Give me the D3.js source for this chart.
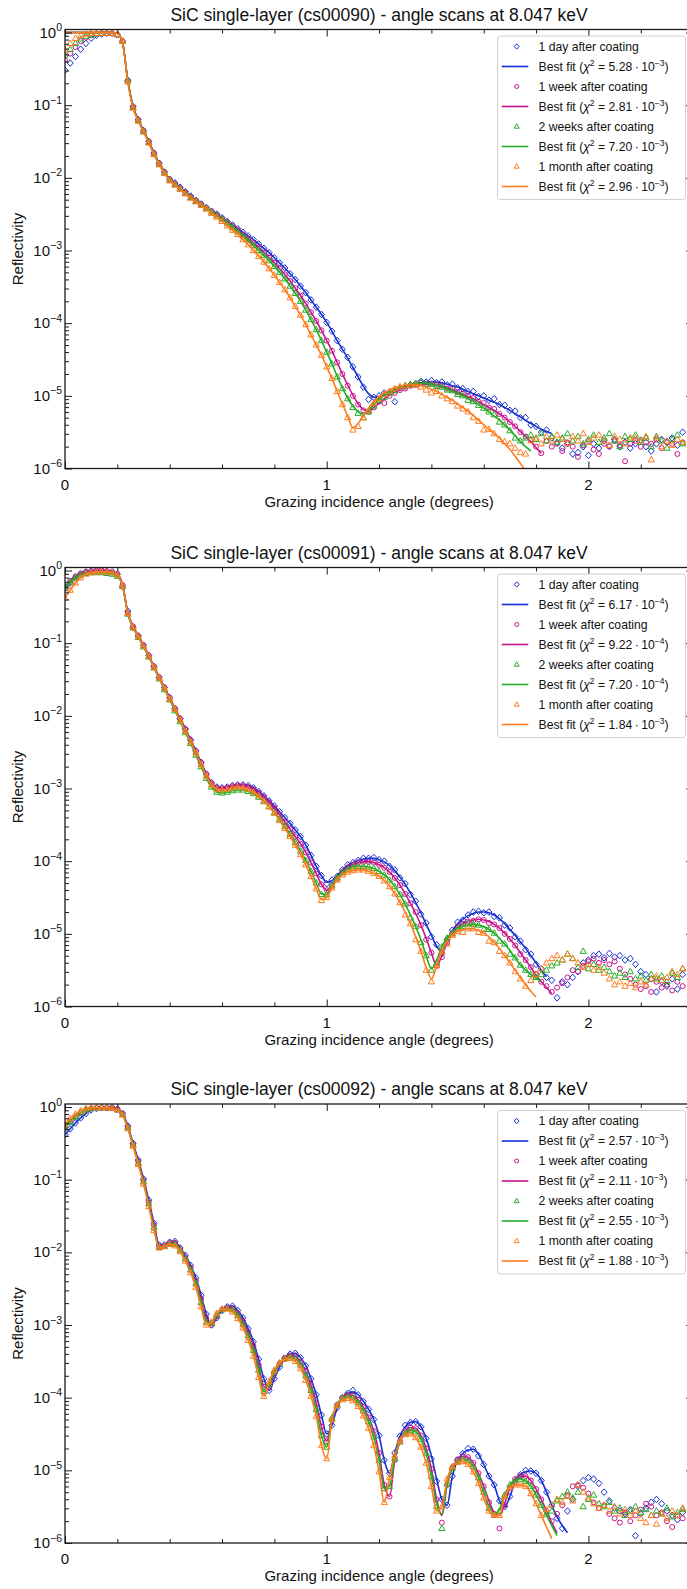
<!DOCTYPE html>
<html>
<head>
<meta charset="utf-8">
<script src="https://cdn.jsdelivr.net/npm/d3@7"></script>
<style>
  body { margin: 0; background: #fff; }
  svg { display: block; }
  text { font-family: "Liberation Sans", Arial, Helvetica, sans-serif; fill: #111; }
</style>
</head>
<body>
<svg id="fig" width="687" height="1589"></svg>
<script>
// X-ray reflectivity angle scans of three SiC single layers, measured at 8.047 keV
// at four ageing times, with the best-fit model curves.
// Reflectivity values are stored as log10(R) on a regular 0.02° scan grid starting at 0°.
const angleStep = 0.02;

const seriesLabels = ["1 day after coating", "1 week after coating", "2 weeks after coating", "1 month after coating"];
const seriesColors = ["#1530d2", "#c8148c", "#26ad26", "#ff7b1c"];
const seriesMarkers = ["diamond", "circle", "triangle", "triangle"];
const sampleIds = ["cs00090", "cs00091", "cs00092"];
const beamEnergyKeV = "8.047";

const chi2_90 = [5.28e-3, 2.81e-3, 7.20e-3, 2.96e-3];
const chi2_91 = [6.17e-4, 9.22e-4, 7.20e-4, 1.84e-3];
const chi2_92 = [2.57e-3, 2.11e-3, 2.55e-3, 1.88e-3];

const xTickLabels = ["0", "1", "2"];

// ---------- cs00090 : measured log10(R) ----------
const logR90Day = [
  -0.52,-0.42,-0.33,-0.23,-0.15,-0.08,-0.04,-0.02,-0.01,-0.01,
  -0.03,-0.12,-0.66,-1.02,-1.20,-1.35,-1.50,-1.66,-1.80,-1.92,
  -2.02,-2.07,-2.13,-2.19,-2.25,-2.31,-2.36,-2.41,-2.46,-2.50,
  -2.55,-2.60,-2.65,-2.70,-2.75,-2.80,-2.85,-2.91,-2.97,-3.03,
  -3.10,-3.17,-3.24,-3.32,-3.40,-3.49,-3.58,-3.68,-3.78,-3.88,
  -3.99,-4.11,-4.24,-4.36,-4.47,-4.60,-4.74,-4.88,-5.05,-5.02,
  -5.00,-4.96,-4.95,-5.08,-4.89,-4.87,-4.85,-4.83,-4.80,-4.81,
  -4.79,-4.82,-4.81,-4.85,-4.84,-4.89,-4.90,-4.94,-4.94,-5.01,
  -5.00,-5.06,-5.04,-5.12,-5.13,-5.20,-5.21,-5.30,-5.30,-5.40,
  -5.42,-5.50,-5.47,-5.58,-5.64,-5.72,-5.66,-5.80,-5.78,-5.70,
  -5.82,-5.66,-5.72,-5.62,-5.69,-5.60,-5.70,-5.64,-5.72,-5.66,
  -5.61,-5.70,-5.76,-5.66,-5.60,-5.64,-5.58,-5.68,-5.50
];
const logR90Week = [
  -0.38,-0.29,-0.20,-0.12,-0.07,-0.04,-0.02,-0.01,-0.01,-0.01,
  -0.03,-0.12,-0.66,-1.02,-1.20,-1.35,-1.50,-1.66,-1.80,-1.92,
  -2.02,-2.08,-2.14,-2.20,-2.26,-2.31,-2.36,-2.41,-2.46,-2.51,
  -2.56,-2.61,-2.66,-2.72,-2.78,-2.84,-2.90,-2.96,-3.03,-3.10,
  -3.17,-3.25,-3.33,-3.42,-3.52,-3.62,-3.73,-3.85,-3.97,-4.10,
  -4.24,-4.38,-4.54,-4.70,-4.86,-5.00,-5.12,-5.20,-5.22,-5.16,
  -5.08,-5.10,-5.00,-4.96,-4.92,-4.90,-4.86,-4.85,-4.82,-4.84,
  -4.83,-4.85,-4.86,-4.90,-4.90,-4.95,-4.97,-5.00,-5.03,-5.08,
  -5.10,-5.16,-5.18,-5.25,-5.30,-5.36,-5.42,-5.50,-5.56,-5.60,
  -5.70,-5.79,-5.62,-5.70,-5.66,-5.76,-5.64,-5.70,-5.84,-5.68,
  -5.62,-5.74,-5.80,-5.66,-5.70,-5.62,-5.68,-5.90,-5.66,-5.62,
  -5.70,-5.64,-5.66,-5.60,-5.72,-5.64,-5.66,-5.80,-5.64
];
const logR90TwoWeeks = [
  -0.31,-0.23,-0.15,-0.09,-0.05,-0.03,-0.02,-0.01,-0.01,-0.01,
  -0.03,-0.12,-0.66,-1.03,-1.21,-1.36,-1.51,-1.67,-1.81,-1.93,
  -2.03,-2.09,-2.15,-2.21,-2.27,-2.32,-2.37,-2.42,-2.47,-2.52,
  -2.57,-2.62,-2.68,-2.74,-2.80,-2.86,-2.93,-3.00,-3.07,-3.14,
  -3.22,-3.30,-3.39,-3.49,-3.59,-3.70,-3.82,-3.95,-4.09,-4.24,
  -4.40,-4.56,-4.74,-4.90,-5.04,-5.16,-5.24,-5.30,-5.22,-5.14,
  -5.06,-5.02,-4.96,-4.93,-4.88,-4.86,-4.84,-4.83,-4.80,-4.84,
  -4.84,-4.87,-4.88,-4.92,-4.93,-4.98,-5.00,-5.06,-5.08,-5.13,
  -5.17,-5.22,-5.26,-5.36,-5.40,-5.48,-5.58,-5.62,-5.58,-5.54,
  -5.60,-5.52,-5.62,-5.56,-5.64,-5.58,-5.52,-5.62,-5.56,-5.66,
  -5.60,-5.54,-5.64,-5.58,-5.52,-5.62,-5.70,-5.56,-5.60,-5.54,
  -5.64,-5.58,-5.70,-5.56,-5.62,-5.72,-5.60,-5.54,-5.66
];
const logR90Month = [
  -0.24,-0.15,-0.08,-0.04,-0.02,-0.01,-0.01,-0.01,-0.01,-0.01,
  -0.03,-0.12,-0.68,-1.04,-1.22,-1.37,-1.52,-1.68,-1.82,-1.94,
  -2.04,-2.10,-2.16,-2.22,-2.28,-2.33,-2.38,-2.43,-2.49,-2.54,
  -2.60,-2.66,-2.72,-2.78,-2.85,-2.92,-3.00,-3.08,-3.16,-3.25,
  -3.34,-3.44,-3.54,-3.65,-3.77,-3.89,-4.02,-4.16,-4.30,-4.44,
  -4.60,-4.76,-4.94,-5.12,-5.30,-5.47,-5.42,-5.30,-5.20,-5.10,
  -5.04,-4.98,-4.94,-4.90,-4.88,-4.86,-4.86,-4.85,-4.88,-4.92,
  -4.96,-4.94,-5.00,-5.04,-5.08,-5.14,-5.18,-5.22,-5.30,-5.35,
  -5.47,-5.46,-5.52,-5.60,-5.63,-5.66,-5.72,-5.78,-5.80,-5.62,
  -5.58,-5.66,-5.56,-5.62,-5.54,-5.60,-5.66,-5.56,-5.62,-5.52,
  -5.64,-5.58,-5.54,-5.62,-5.68,-5.56,-5.60,-5.66,-5.58,-5.58,
  -5.62,-5.56,-5.88,-5.58,-5.70,-5.62,-5.68,-5.60,-5.64
];

// ---------- cs00090 : best-fit log10(R) ----------
const fit90Day = [
  0.00,0.00,0.00,0.00,0.00,0.00,0.00,0.00,0.00,0.00,
  -0.01,-0.14,-0.66,-1.02,-1.20,-1.35,-1.50,-1.66,-1.80,-1.92,
  -2.02,-2.07,-2.13,-2.19,-2.25,-2.31,-2.36,-2.41,-2.46,-2.50,
  -2.55,-2.60,-2.65,-2.70,-2.75,-2.80,-2.85,-2.91,-2.97,-3.03,
  -3.10,-3.17,-3.24,-3.32,-3.40,-3.49,-3.58,-3.68,-3.78,-3.88,
  -3.99,-4.11,-4.24,-4.36,-4.48,-4.61,-4.74,-4.87,-4.97,-5.02,
  -5.01,-4.98,-4.95,-4.92,-4.89,-4.87,-4.85,-4.83,-4.82,-4.81,
  -4.81,-4.81,-4.82,-4.84,-4.86,-4.88,-4.91,-4.94,-4.97,-5.00,
  -5.03,-5.06,-5.09,-5.12,-5.16,-5.20,-5.25,-5.29,-5.34,-5.38,
  -5.42,-5.46,-5.49,-5.52
];
const fit90Week = [
  0.00,0.00,0.00,0.00,0.00,0.00,0.00,0.00,0.00,0.00,
  -0.01,-0.14,-0.66,-1.02,-1.20,-1.35,-1.50,-1.66,-1.80,-1.92,
  -2.02,-2.08,-2.14,-2.20,-2.26,-2.31,-2.36,-2.41,-2.46,-2.51,
  -2.56,-2.61,-2.66,-2.72,-2.78,-2.84,-2.90,-2.96,-3.03,-3.10,
  -3.17,-3.25,-3.33,-3.42,-3.52,-3.62,-3.73,-3.85,-3.97,-4.10,
  -4.24,-4.38,-4.54,-4.70,-4.85,-4.99,-5.11,-5.19,-5.21,-5.16,
  -5.10,-5.04,-4.99,-4.95,-4.92,-4.89,-4.87,-4.85,-4.84,-4.84,
  -4.84,-4.85,-4.87,-4.89,-4.92,-4.95,-4.98,-5.01,-5.04,-5.08,
  -5.12,-5.16,-5.20,-5.25,-5.30,-5.36,-5.42,-5.49,-5.56,-5.63,
  -5.71,-5.79
];
const fit90TwoWeeks = [
  0.00,0.00,0.00,0.00,0.00,0.00,0.00,0.00,0.00,0.00,
  -0.01,-0.14,-0.66,-1.03,-1.21,-1.36,-1.51,-1.67,-1.81,-1.93,
  -2.03,-2.09,-2.15,-2.21,-2.27,-2.32,-2.37,-2.42,-2.47,-2.52,
  -2.57,-2.62,-2.68,-2.74,-2.80,-2.86,-2.93,-3.00,-3.07,-3.14,
  -3.22,-3.30,-3.39,-3.49,-3.59,-3.70,-3.82,-3.95,-4.09,-4.24,
  -4.40,-4.56,-4.73,-4.89,-5.03,-5.14,-5.22,-5.25,-5.20,-5.12,
  -5.05,-4.99,-4.95,-4.91,-4.88,-4.86,-4.84,-4.83,-4.83,-4.83,
  -4.84,-4.86,-4.88,-4.91,-4.94,-4.97,-5.00,-5.04,-5.08,-5.12,
  -5.17,-5.22,-5.28,-5.33,-5.40,-5.47,-5.55,-5.63,-5.70,-5.76
];
const fit90Month = [
  0.00,0.00,0.00,0.00,0.00,0.00,0.00,0.00,0.00,0.00,
  -0.01,-0.14,-0.68,-1.04,-1.22,-1.37,-1.52,-1.68,-1.82,-1.94,
  -2.04,-2.10,-2.16,-2.22,-2.28,-2.33,-2.38,-2.43,-2.49,-2.54,
  -2.60,-2.66,-2.72,-2.78,-2.85,-2.92,-3.00,-3.08,-3.16,-3.25,
  -3.34,-3.44,-3.54,-3.65,-3.77,-3.89,-4.02,-4.16,-4.30,-4.44,
  -4.60,-4.76,-4.94,-5.11,-5.28,-5.44,-5.38,-5.28,-5.17,-5.08,
  -5.01,-4.96,-4.92,-4.89,-4.87,-4.85,-4.85,-4.85,-4.86,-4.88,
  -4.91,-4.94,-4.98,-5.02,-5.06,-5.11,-5.16,-5.21,-5.27,-5.33,
  -5.40,-5.46,-5.52,-5.58,-5.66,-5.74,-5.83,-5.93,-6.04
];

// ---------- cs00091 : measured log10(R) ----------
const logR91Day = [
  -0.25,-0.17,-0.10,-0.05,-0.02,-0.01,0.00,0.00,-0.01,-0.02,
  -0.05,-0.22,-0.56,-0.78,-0.90,-1.03,-1.17,-1.32,-1.47,-1.61,
  -1.75,-1.90,-2.04,-2.18,-2.33,-2.48,-2.64,-2.80,-2.92,-2.98,
  -2.99,-2.98,-2.96,-2.95,-2.95,-2.96,-2.99,-3.04,-3.10,-3.17,
  -3.24,-3.32,-3.40,-3.48,-3.57,-3.66,-3.78,-3.92,-4.07,-4.20,
  -4.31,-4.26,-4.21,-4.12,-4.05,-4.02,-3.99,-3.96,-3.96,-3.95,
  -3.98,-4.00,-4.07,-4.12,-4.23,-4.31,-4.46,-4.55,-4.73,-4.85,
  -5.04,-5.15,-5.27,-5.08,-4.95,-4.84,-4.81,-4.74,-4.70,-4.69,
  -4.71,-4.70,-4.76,-4.78,-4.88,-4.92,-5.04,-5.10,-5.22,-5.28,
  -5.42,-5.48,-5.60,-5.64,-5.88,-5.66,-5.70,-5.60,-5.52,-5.40,
  -5.36,-5.30,-5.28,-5.33,-5.27,-5.32,-5.30,-5.36,-5.34,-5.42,
  -5.52,-5.56,-5.62,-5.80,-5.66,-5.72,-5.62,-5.76,-5.56
];
const logR91Week = [
  -0.22,-0.14,-0.08,-0.04,-0.02,-0.01,0.00,0.00,-0.01,-0.02,
  -0.05,-0.20,-0.58,-0.77,-0.90,-1.03,-1.17,-1.32,-1.47,-1.61,
  -1.75,-1.90,-2.04,-2.19,-2.34,-2.49,-2.65,-2.81,-2.93,-2.99,
  -3.00,-2.99,-2.97,-2.96,-2.96,-2.98,-3.01,-3.06,-3.12,-3.19,
  -3.27,-3.36,-3.46,-3.56,-3.66,-3.76,-3.88,-4.02,-4.17,-4.32,
  -4.40,-4.34,-4.24,-4.15,-4.09,-4.05,-4.02,-4.01,-4.01,-4.02,
  -4.05,-4.09,-4.15,-4.23,-4.33,-4.45,-4.58,-4.70,-4.88,-5.08,
  -5.26,-5.44,-5.32,-5.12,-4.99,-4.90,-4.86,-4.83,-4.82,-4.80,
  -4.81,-4.85,-4.87,-4.92,-5.00,-5.07,-5.16,-5.28,-5.36,-5.46,
  -5.55,-5.66,-5.72,-5.80,-5.74,-5.68,-5.60,-5.50,-5.52,-5.44,
  -5.38,-5.34,-5.40,-5.36,-5.42,-5.38,-5.48,-5.56,-5.62,-5.70,
  -5.76,-5.72,-5.80,-5.66,-5.74,-5.70,-5.78,-5.66,-5.72
];
const logR91TwoWeeks = [
  -0.24,-0.16,-0.10,-0.06,-0.04,-0.03,-0.03,-0.03,-0.04,-0.05,
  -0.08,-0.22,-0.60,-0.79,-0.92,-1.05,-1.19,-1.34,-1.49,-1.64,
  -1.78,-1.93,-2.08,-2.23,-2.38,-2.54,-2.70,-2.86,-2.98,-3.05,
  -3.06,-3.05,-3.03,-3.02,-3.02,-3.04,-3.07,-3.12,-3.18,-3.25,
  -3.33,-3.42,-3.52,-3.63,-3.74,-3.86,-3.99,-4.14,-4.30,-4.46,
  -4.46,-4.34,-4.23,-4.16,-4.11,-4.08,-4.07,-4.07,-4.08,-4.10,
  -4.14,-4.19,-4.26,-4.35,-4.46,-4.59,-4.78,-4.90,-5.12,-5.30,
  -5.50,-5.40,-5.18,-5.06,-5.00,-4.93,-4.90,-4.86,-4.87,-4.88,
  -4.94,-4.94,-4.99,-5.10,-5.14,-5.28,-5.33,-5.43,-5.50,-5.56,
  -5.60,-5.56,-5.50,-5.44,-5.40,-5.36,-5.28,-5.34,-5.46,-5.24,
  -5.48,-5.42,-5.50,-5.46,-5.52,-5.58,-5.54,-5.60,-5.52,-5.62,
  -5.58,-5.64,-5.56,-5.62,-5.58,-5.66,-5.54,-5.60,-5.48
];
const logR91Month = [
  -0.38,-0.27,-0.17,-0.10,-0.05,-0.03,-0.02,-0.02,-0.02,-0.03,
  -0.06,-0.21,-0.59,-0.78,-0.91,-1.04,-1.18,-1.33,-1.48,-1.62,
  -1.77,-1.91,-2.06,-2.21,-2.36,-2.51,-2.67,-2.83,-2.95,-3.01,
  -3.02,-3.01,-2.99,-2.98,-2.99,-3.01,-3.05,-3.10,-3.17,-3.25,
  -3.34,-3.44,-3.55,-3.66,-3.78,-3.91,-4.05,-4.21,-4.38,-4.54,
  -4.50,-4.37,-4.26,-4.19,-4.15,-4.13,-4.12,-4.12,-4.14,-4.17,
  -4.21,-4.27,-4.35,-4.45,-4.57,-4.74,-4.86,-5.08,-5.24,-5.50,
  -5.66,-5.44,-5.24,-5.14,-5.02,-4.97,-4.98,-4.93,-4.93,-4.98,
  -4.99,-5.10,-5.12,-5.24,-5.30,-5.40,-5.52,-5.62,-5.72,-5.64,
  -5.56,-5.48,-5.40,-5.34,-5.30,-5.36,-5.28,-5.34,-5.40,-5.46,
  -5.42,-5.50,-5.46,-5.54,-5.62,-5.70,-5.66,-5.72,-5.68,-5.74,
  -5.66,-5.70,-5.62,-5.58,-5.64,-5.60,-5.52,-5.56,-5.48
];

// ---------- cs00091 : best-fit log10(R) ----------
const fit91Day = [
  -0.25,-0.17,-0.10,-0.05,-0.02,-0.01,0.00,0.00,-0.01,-0.02,
  -0.05,-0.20,-0.58,-0.77,-0.90,-1.03,-1.17,-1.32,-1.47,-1.61,
  -1.75,-1.90,-2.04,-2.18,-2.33,-2.48,-2.64,-2.80,-2.92,-2.98,
  -2.99,-2.98,-2.96,-2.95,-2.95,-2.96,-2.99,-3.04,-3.10,-3.17,
  -3.24,-3.32,-3.40,-3.48,-3.57,-3.66,-3.78,-3.92,-4.07,-4.20,
  -4.29,-4.27,-4.20,-4.12,-4.06,-4.02,-3.99,-3.97,-3.96,-3.96,
  -3.98,-4.01,-4.06,-4.13,-4.22,-4.32,-4.44,-4.57,-4.71,-4.87,
  -5.02,-5.17,-5.24,-5.10,-4.96,-4.86,-4.80,-4.75,-4.72,-4.70,
  -4.70,-4.71,-4.74,-4.79,-4.86,-4.94,-5.02,-5.11,-5.20,-5.30,
  -5.40,-5.50,-5.59
];
const fit91Week = [
  -0.22,-0.14,-0.08,-0.04,-0.02,-0.01,0.00,0.00,-0.01,-0.02,
  -0.05,-0.20,-0.58,-0.77,-0.90,-1.03,-1.17,-1.32,-1.47,-1.61,
  -1.75,-1.90,-2.04,-2.19,-2.34,-2.49,-2.65,-2.81,-2.93,-2.99,
  -3.00,-2.99,-2.97,-2.96,-2.96,-2.98,-3.01,-3.06,-3.12,-3.19,
  -3.27,-3.36,-3.46,-3.56,-3.66,-3.76,-3.88,-4.02,-4.17,-4.32,
  -4.40,-4.34,-4.24,-4.15,-4.09,-4.05,-4.02,-4.01,-4.01,-4.02,
  -4.05,-4.09,-4.15,-4.23,-4.33,-4.45,-4.58,-4.72,-4.88,-5.06,
  -5.26,-5.44,-5.30,-5.12,-4.99,-4.91,-4.86,-4.83,-4.81,-4.80,
  -4.81,-4.83,-4.87,-4.92,-4.99,-5.07,-5.16,-5.26,-5.36,-5.46,
  -5.57,-5.66,-5.74,-5.82
];
const fit91TwoWeeks = [
  -0.24,-0.16,-0.10,-0.06,-0.04,-0.03,-0.03,-0.03,-0.04,-0.05,
  -0.08,-0.22,-0.60,-0.79,-0.92,-1.05,-1.19,-1.34,-1.49,-1.64,
  -1.78,-1.93,-2.08,-2.23,-2.38,-2.54,-2.70,-2.86,-2.98,-3.05,
  -3.06,-3.05,-3.03,-3.02,-3.02,-3.04,-3.07,-3.12,-3.18,-3.25,
  -3.33,-3.42,-3.52,-3.63,-3.74,-3.86,-3.99,-4.14,-4.30,-4.45,
  -4.46,-4.34,-4.23,-4.16,-4.11,-4.08,-4.07,-4.07,-4.08,-4.10,
  -4.14,-4.19,-4.26,-4.35,-4.46,-4.59,-4.74,-4.90,-5.08,-5.30,
  -5.48,-5.36,-5.18,-5.06,-4.98,-4.93,-4.90,-4.88,-4.87,-4.88,
  -4.90,-4.94,-4.99,-5.06,-5.14,-5.23,-5.33,-5.43,-5.50,-5.56,
  -5.61,-5.66
];
const fit91Month = [
  -0.38,-0.27,-0.17,-0.10,-0.05,-0.03,-0.02,-0.02,-0.02,-0.03,
  -0.06,-0.21,-0.59,-0.78,-0.91,-1.04,-1.18,-1.33,-1.48,-1.62,
  -1.77,-1.91,-2.06,-2.21,-2.36,-2.51,-2.67,-2.83,-2.95,-3.01,
  -3.02,-3.01,-2.99,-2.98,-2.99,-3.01,-3.05,-3.10,-3.17,-3.25,
  -3.34,-3.44,-3.55,-3.66,-3.78,-3.91,-4.05,-4.21,-4.38,-4.53,
  -4.50,-4.37,-4.26,-4.19,-4.15,-4.13,-4.12,-4.12,-4.14,-4.17,
  -4.21,-4.27,-4.35,-4.45,-4.57,-4.70,-4.86,-5.04,-5.24,-5.46,
  -5.62,-5.44,-5.24,-5.10,-5.02,-4.97,-4.94,-4.93,-4.93,-4.95,
  -4.99,-5.04,-5.12,-5.20,-5.30,-5.40,-5.50,-5.60,-5.70,-5.79,
  -5.87
];

// ---------- cs00092 : measured log10(R) ----------
const logR92Day = [
  -0.38,-0.30,-0.22,-0.15,-0.09,-0.04,-0.02,-0.01,-0.01,-0.01,
  -0.03,-0.09,-0.26,-0.50,-0.73,-0.99,-1.28,-1.60,-1.90,-1.90,
  -1.86,-1.85,-1.94,-2.04,-2.18,-2.35,-2.59,-2.85,-3.00,-2.90,
  -2.80,-2.75,-2.74,-2.80,-2.90,-3.05,-3.23,-3.47,-3.74,-3.90,
  -3.74,-3.58,-3.46,-3.40,-3.39,-3.45,-3.56,-3.74,-3.96,-4.24,
  -4.50,-4.38,-4.14,-4.00,-3.94,-3.90,-3.96,-4.05,-4.16,-4.30,
  -4.52,-4.86,-5.04,-4.76,-4.53,-4.38,-4.34,-4.33,-4.40,-4.56,
  -4.84,-5.15,-5.40,-5.48,-5.08,-4.86,-4.77,-4.70,-4.71,-4.80,
  -4.92,-5.08,-5.20,-5.42,-5.50,-5.36,-5.16,-5.06,-5.00,-5.01,
  -5.04,-5.14,-5.30,-5.48,-5.66,-5.80,-5.56,-5.40,-5.22,-5.14,
  -5.10,-5.12,-5.18,-5.30,-5.42,-5.52,-5.56,-5.60,-5.54,-5.90,
  -5.60,-5.52,-5.44,-5.40,-5.46,-5.56,-5.62,-5.68,-5.58
];
const logR92Week = [
  -0.27,-0.20,-0.13,-0.08,-0.04,-0.02,-0.01,-0.01,-0.01,-0.01,
  -0.03,-0.09,-0.27,-0.51,-0.75,-1.01,-1.31,-1.63,-1.92,-1.91,
  -1.87,-1.87,-1.95,-2.07,-2.21,-2.39,-2.64,-2.91,-3.00,-2.88,
  -2.79,-2.76,-2.77,-2.84,-2.95,-3.10,-3.29,-3.55,-3.85,-3.86,
  -3.66,-3.53,-3.45,-3.42,-3.43,-3.51,-3.64,-3.83,-4.08,-4.40,
  -4.60,-4.30,-4.10,-4.00,-3.96,-3.97,-4.03,-4.13,-4.27,-4.46,
  -4.76,-5.20,-5.36,-4.86,-4.60,-4.46,-4.41,-4.42,-4.52,-4.70,
  -4.98,-5.40,-5.72,-5.20,-4.96,-4.85,-4.81,-4.82,-4.90,-5.04,
  -5.22,-5.44,-5.60,-5.80,-5.48,-5.24,-5.12,-5.08,-5.08,-5.14,
  -5.26,-5.40,-5.56,-5.70,-5.60,-5.48,-5.34,-5.22,-5.20,-5.24,
  -5.32,-5.44,-5.52,-5.48,-5.60,-5.66,-5.72,-5.58,-5.70,-5.62,
  -5.54,-5.46,-5.50,-5.62,-5.58,-5.70,-5.78,-5.62,-5.66
];
const logR92TwoWeeks = [
  -0.29,-0.21,-0.14,-0.08,-0.04,-0.02,-0.01,-0.01,-0.01,-0.02,
  -0.04,-0.10,-0.28,-0.52,-0.77,-1.03,-1.33,-1.66,-1.93,-1.92,
  -1.88,-1.89,-1.97,-2.09,-2.24,-2.43,-2.69,-2.96,-2.98,-2.86,
  -2.79,-2.77,-2.79,-2.87,-2.99,-3.15,-3.35,-3.62,-3.92,-3.82,
  -3.64,-3.53,-3.46,-3.44,-3.46,-3.55,-3.70,-3.90,-4.16,-4.52,
  -4.68,-4.28,-4.10,-4.01,-3.98,-4.00,-4.07,-4.18,-4.33,-4.54,
  -4.86,-5.25,-5.22,-4.84,-4.61,-4.49,-4.45,-4.47,-4.57,-4.77,
  -5.08,-5.50,-5.80,-5.18,-4.97,-4.88,-4.85,-4.87,-4.95,-5.10,
  -5.30,-5.52,-5.62,-5.56,-5.34,-5.20,-5.14,-5.12,-5.15,-5.22,
  -5.34,-5.48,-5.60,-5.56,-5.42,-5.36,-5.30,-5.38,-5.30,-5.50,
  -5.40,-5.34,-5.46,-5.50,-5.44,-5.56,-5.52,-5.62,-5.56,-5.50,
  -5.58,-5.54,-5.62,-5.56,-5.60,-5.52,-5.64,-5.58,-5.54
];
const logR92Month = [
  -0.24,-0.16,-0.10,-0.05,-0.02,-0.01,-0.01,-0.01,-0.01,-0.02,
  -0.04,-0.11,-0.30,-0.54,-0.79,-1.06,-1.37,-1.70,-1.94,-1.92,
  -1.89,-1.91,-1.99,-2.12,-2.28,-2.48,-2.75,-3.00,-2.96,-2.84,
  -2.78,-2.78,-2.82,-2.91,-3.04,-3.21,-3.43,-3.72,-3.98,-3.78,
  -3.62,-3.52,-3.47,-3.46,-3.50,-3.60,-3.76,-3.98,-4.26,-4.66,
  -4.84,-4.30,-4.11,-4.03,-4.01,-4.04,-4.12,-4.25,-4.42,-4.66,
  -5.02,-5.44,-5.10,-4.80,-4.60,-4.51,-4.50,-4.55,-4.68,-4.90,
  -5.22,-5.56,-5.50,-5.12,-4.95,-4.89,-4.88,-4.92,-5.02,-5.18,
  -5.38,-5.56,-5.62,-5.62,-5.36,-5.24,-5.20,-5.20,-5.22,-5.32,
  -5.46,-5.62,-5.54,-5.48,-5.40,-5.44,-5.36,-5.42,-5.20,-5.30,
  -5.38,-5.46,-5.52,-5.48,-5.56,-5.50,-5.60,-5.54,-5.62,-5.56,
  -5.66,-5.72,-5.62,-5.74,-5.60,-5.66,-5.56,-5.62,-5.52
];

// ---------- cs00092 : best-fit log10(R) ----------
const fit92Day = [
  -0.38,-0.30,-0.22,-0.15,-0.09,-0.04,-0.02,-0.01,-0.01,-0.01,
  -0.03,-0.09,-0.26,-0.50,-0.73,-0.99,-1.28,-1.60,-1.90,-1.90,
  -1.86,-1.85,-1.94,-2.04,-2.18,-2.35,-2.59,-2.85,-3.00,-2.90,
  -2.80,-2.75,-2.74,-2.80,-2.90,-3.05,-3.23,-3.47,-3.74,-3.90,
  -3.74,-3.58,-3.46,-3.40,-3.39,-3.45,-3.56,-3.74,-3.96,-4.24,
  -4.50,-4.38,-4.14,-4.00,-3.94,-3.92,-3.96,-4.05,-4.16,-4.30,
  -4.52,-4.86,-5.04,-4.76,-4.53,-4.40,-4.34,-4.33,-4.40,-4.56,
  -4.80,-5.12,-5.40,-5.48,-5.08,-4.86,-4.77,-4.72,-4.71,-4.78,
  -4.92,-5.08,-5.20,-5.42,-5.50,-5.36,-5.16,-5.06,-5.02,-5.01,
  -5.04,-5.14,-5.30,-5.48,-5.64,-5.76,-5.86
];
const fit92Week = [
  -0.27,-0.20,-0.13,-0.08,-0.04,-0.02,-0.01,-0.01,-0.01,-0.01,
  -0.03,-0.09,-0.27,-0.51,-0.75,-1.01,-1.31,-1.63,-1.92,-1.91,
  -1.87,-1.87,-1.95,-2.07,-2.21,-2.39,-2.64,-2.91,-3.00,-2.88,
  -2.79,-2.76,-2.77,-2.84,-2.95,-3.10,-3.29,-3.55,-3.85,-3.86,
  -3.66,-3.53,-3.45,-3.42,-3.43,-3.51,-3.64,-3.83,-4.08,-4.40,
  -4.60,-4.30,-4.10,-4.00,-3.96,-3.97,-4.03,-4.13,-4.27,-4.46,
  -4.76,-5.20,-5.36,-4.86,-4.60,-4.46,-4.41,-4.42,-4.52,-4.70,
  -4.98,-5.40,-5.62,-5.20,-4.96,-4.85,-4.81,-4.82,-4.90,-5.04,
  -5.22,-5.42,-5.58,-5.62,-5.46,-5.24,-5.12,-5.08,-5.08,-5.14,
  -5.26,-5.40,-5.56,-5.72,-5.86
];
const fit92TwoWeeks = [
  -0.29,-0.21,-0.14,-0.08,-0.04,-0.02,-0.01,-0.01,-0.01,-0.02,
  -0.04,-0.10,-0.28,-0.52,-0.77,-1.03,-1.33,-1.66,-1.93,-1.92,
  -1.88,-1.89,-1.97,-2.09,-2.24,-2.43,-2.69,-2.96,-2.98,-2.86,
  -2.79,-2.77,-2.79,-2.87,-2.99,-3.15,-3.35,-3.62,-3.92,-3.82,
  -3.64,-3.53,-3.46,-3.44,-3.46,-3.55,-3.70,-3.90,-4.16,-4.52,
  -4.68,-4.28,-4.10,-4.01,-3.98,-4.00,-4.07,-4.18,-4.33,-4.54,
  -4.86,-5.25,-5.22,-4.84,-4.61,-4.49,-4.45,-4.47,-4.57,-4.77,
  -5.08,-5.46,-5.60,-5.18,-4.97,-4.88,-4.85,-4.87,-4.95,-5.10,
  -5.30,-5.50,-5.60,-5.54,-5.34,-5.20,-5.14,-5.12,-5.15,-5.22,
  -5.34,-5.48,-5.62,-5.76,-5.90
];
const fit92Month = [
  -0.24,-0.16,-0.10,-0.05,-0.02,-0.01,-0.01,-0.01,-0.01,-0.02,
  -0.04,-0.11,-0.30,-0.54,-0.79,-1.06,-1.37,-1.70,-1.94,-1.92,
  -1.89,-1.91,-1.99,-2.12,-2.28,-2.48,-2.75,-3.00,-2.96,-2.84,
  -2.78,-2.78,-2.82,-2.91,-3.04,-3.21,-3.43,-3.72,-3.98,-3.78,
  -3.62,-3.52,-3.47,-3.46,-3.50,-3.60,-3.76,-3.98,-4.26,-4.66,
  -4.84,-4.30,-4.11,-4.03,-4.01,-4.04,-4.12,-4.25,-4.42,-4.66,
  -5.02,-5.44,-5.10,-4.80,-4.60,-4.51,-4.50,-4.55,-4.68,-4.90,
  -5.22,-5.56,-5.50,-5.12,-4.95,-4.89,-4.88,-4.92,-5.02,-5.18,
  -5.38,-5.56,-5.62,-5.62,-5.36,-5.24,-5.20,-5.20,-5.22,-5.32,
  -5.46,-5.62,-5.78,-5.94
];

// ---------- assemble panels ----------
const panels = [
  { sample: sampleIds[0], chi2: chi2_90,
    measured: [logR90Day, logR90Week, logR90TwoWeeks, logR90Month],
    fitted:   [fit90Day, fit90Week, fit90TwoWeeks, fit90Month] },
  { sample: sampleIds[1], chi2: chi2_91,
    measured: [logR91Day, logR91Week, logR91TwoWeeks, logR91Month],
    fitted:   [fit91Day, fit91Week, fit91TwoWeeks, fit91Month] },
  { sample: sampleIds[2], chi2: chi2_92,
    measured: [logR92Day, logR92Week, logR92TwoWeeks, logR92Month],
    fitted:   [fit92Day, fit92Week, fit92TwoWeeks, fit92Month] }
];

// ---------- layout ----------
const plotLeft = 65, plotRight = 693.1;
const panelTops = [29.5, 567.5, 1104];
const plotHeight = 439;
const angleMax = 2.4;
const rMin = 1e-6, rMax = 1.1;
const ink = "#1a1a1a";

const svg = d3.select("#fig");
svg.append("rect").attr("width", 687).attr("height", 1589).attr("fill", "#fff");

const x = d3.scaleLinear().domain([0, angleMax]).range([plotLeft, plotRight]);
const toPoints = arr => arr.map((v, j) => ({ angle: j * angleStep, r: Math.pow(10, v) }));

function markerPath(kind, s) {
  if (kind === "diamond") return `M0,${-3.3*s}L${3*s},0L0,${3.3*s}L${-3*s},0Z`;
  if (kind === "circle") { const r = 2.5*s; return `M${r},0A${r},${r} 0 1,1 ${-r},0A${r},${r} 0 1,1 ${r},0Z`; }
  return `M0,${-3.4*s}L${3.1*s},${2.1*s}L${-3.1*s},${2.1*s}Z`;
}

function superscriptText(sel, base, exp, size, supSize, rise) {
  sel.append("tspan").text(base);
  sel.append("tspan").attr("font-size", supSize).attr("dy", -rise).text(exp);
}

const xMajor = [0, 1, 2];
const xMinor = d3.range(0, angleMax + 0.001, 0.2).map(v => +v.toFixed(1)).filter(v => !xMajor.includes(v));
const yMajor = d3.range(-6, 1).map(e => Math.pow(10, e));
const yMinor = d3.range(-6, 0).flatMap(e => d3.range(2, 10).map(m => m * Math.pow(10, e)));

panels.forEach((p, pi) => {
  const top = panelTops[pi];
  const bottom = top + plotHeight;
  const y = d3.scaleLog().domain([rMin, rMax]).range([bottom, top]);
  const g = svg.append("g");

  // clip region for the plotted curves
  const clipId = `clip-${p.sample}`;
  g.append("clipPath").attr("id", clipId)
    .append("rect").attr("x", plotLeft).attr("y", top)
    .attr("width", plotRight - plotLeft).attr("height", plotHeight);

  // title
  g.append("text")
    .attr("x", (plotLeft + plotRight) / 2).attr("y", top - 9)
    .attr("text-anchor", "middle").attr("font-size", 17.5)
    .text(`SiC single-layer (${p.sample}) - angle scans at ${beamEnergyKeV} keV`);

  // data and fits
  const plot = g.append("g").attr("clip-path", `url(#${clipId})`);
  const line = d3.line().x(d => x(d.angle)).y(d => y(d.r)).curve(d3.curveMonotoneX);

  p.measured.forEach((arr, si) => {
    const col = seriesColors[si];
    plot.append("g").selectAll("path")
      .data(toPoints(arr)).join("path")
      .attr("d", markerPath(seriesMarkers[si], 1))
      .attr("transform", d => `translate(${x(d.angle)},${y(d.r)})`)
      .attr("fill", "none").attr("stroke", col).attr("stroke-width", 1);
    plot.append("path")
      .datum(toPoints(p.fitted[si]))
      .attr("d", line)
      .attr("fill", "none").attr("stroke", col).attr("stroke-width", 1.6)
      .attr("stroke-linejoin", "round");
  });

  // axes: ticks point inward on all four sides
  const axes = g.append("g").attr("color", ink);
  const addAxis = (gen, tf) => axes.append("g").attr("transform", tf).call(gen)
    .call(s => s.select(".domain").remove());
  addAxis(d3.axisBottom(x).tickValues(xMajor).tickSize(-7).tickFormat(""), `translate(0,${bottom})`);
  addAxis(d3.axisBottom(x).tickValues(xMinor).tickSize(-4).tickFormat(""), `translate(0,${bottom})`);
  addAxis(d3.axisTop(x).tickValues(xMajor).tickSize(-7).tickFormat(""), `translate(0,${top})`);
  addAxis(d3.axisTop(x).tickValues(xMinor).tickSize(-4).tickFormat(""), `translate(0,${top})`);
  addAxis(d3.axisLeft(y).tickValues(yMajor).tickSize(-7).tickFormat(""), `translate(${plotLeft},0)`);
  addAxis(d3.axisLeft(y).tickValues(yMinor).tickSize(-4).tickFormat(""), `translate(${plotLeft},0)`);
  addAxis(d3.axisRight(y).tickValues(yMajor).tickSize(-7).tickFormat(""), `translate(${plotRight},0)`);
  addAxis(d3.axisRight(y).tickValues(yMinor).tickSize(-4).tickFormat(""), `translate(${plotRight},0)`);
  axes.selectAll("line").attr("stroke-width", 1);

  g.append("rect")
    .attr("x", plotLeft).attr("y", top)
    .attr("width", plotRight - plotLeft).attr("height", plotHeight)
    .attr("fill", "none").attr("stroke", ink).attr("stroke-width", 1.3);

  // tick labels
  xMajor.forEach((v, k) => {
    g.append("text").attr("x", x(v)).attr("y", bottom + 21)
      .attr("text-anchor", "middle").attr("font-size", 15).text(xTickLabels[k]);
  });
  yMajor.forEach(v => {
    const e = Math.round(Math.log10(v));
    const t = g.append("text").attr("x", plotLeft - 3).attr("y", y(v) + 5)
      .attr("text-anchor", "end").attr("font-size", 15);
    superscriptText(t, "10", e === 0 ? "0" : "\u2212" + Math.abs(e), 15, 10.5, 6.5);
  });

  // axis titles
  g.append("text")
    .attr("x", (plotLeft + plotRight) / 2).attr("y", bottom + 38)
    .attr("text-anchor", "middle").attr("font-size", 15)
    .text("Grazing incidence angle (degrees)");
  g.append("text")
    .attr("transform", `translate(23,${(top + bottom) / 2}) rotate(-90)`)
    .attr("text-anchor", "middle").attr("font-size", 15)
    .text("Reflectivity");

  // legend
  const lg = g.append("g");
  lg.append("rect")
    .attr("x", 497.5).attr("y", top + 6.5).attr("width", 188).attr("height", 163.5)
    .attr("rx", 3).attr("fill", "#fff").attr("fill-opacity", 0.85)
    .attr("stroke", "#d0d0d0").attr("stroke-width", 1);
  seriesLabels.forEach((lab, si) => {
    const col = seriesColors[si];
    const cyData = top + 17 + 40 * si;
    const cyFit = cyData + 20;
    lg.append("path")
      .attr("d", markerPath(seriesMarkers[si], 0.8))
      .attr("transform", `translate(516.7,${cyData})`)
      .attr("fill", "none").attr("stroke", col).attr("stroke-width", 1);
    lg.append("text").attr("x", 538.5).attr("y", cyData + 4.3)
      .attr("font-size", 12.2).text(lab);
    lg.append("line")
      .attr("x1", 501.7).attr("x2", 528.3).attr("y1", cyFit).attr("y2", cyFit)
      .attr("stroke", col).attr("stroke-width", 1.6);

    const c = p.chi2[si];
    const exp = Math.floor(Math.log10(c));
    const mant = (c / Math.pow(10, exp)).toFixed(2);
    const t = lg.append("text").attr("x", 538.5).attr("y", cyFit + 4.3).attr("font-size", 12.2);
    t.append("tspan").text("Best fit (");
    t.append("tspan").attr("font-style", "italic").text("\u03C7");
    t.append("tspan").attr("font-size", 8.5).attr("dy", -5).text("2");
    t.append("tspan").attr("dy", 5).text(` = ${mant}\u2009\u00B7\u200910`);
    t.append("tspan").attr("font-size", 8.5).attr("dy", -5).text("\u2212" + Math.abs(exp));
    t.append("tspan").attr("dy", 5).text(")");
  });
});
</script>
</body>
</html>
